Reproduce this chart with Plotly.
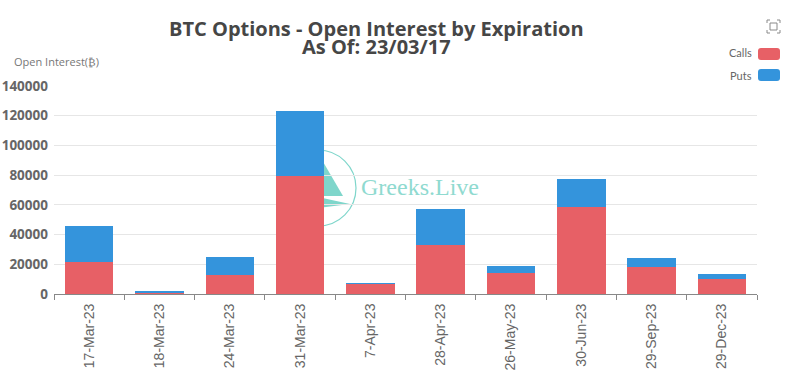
import plotly.graph_objects as go

categories = ["17-Mar-23", "18-Mar-23", "24-Mar-23", "31-Mar-23", "7-Apr-23",
              "28-Apr-23", "26-May-23", "30-Jun-23", "29-Sep-23", "29-Dec-23"]
calls = [21500, 1300, 12500, 79500, 6900, 33000, 14000, 58500, 18500, 10000]
puts = [24300, 150, 12400, 43500, 300, 24000, 5000, 19000, 5700, 3500]
y_ticks = [0, 20000, 40000, 60000, 80000, 100000, 120000, 140000]

W, H = 790, 383
L, R, T, B = 54, 757, 86, 294
CALLS = "#E76066"
PUTS = "#3494DC"
TEAL = "#7FD6CB"


def px(x):
    return (x - L) / (R - L)


def py(y):
    return (B - y) / (B - T)


def rrect(x0, y0, x1, y1, r):
    a0, a1 = px(x0), px(x1)
    b0, b1 = py(y0), py(y1)
    rx, ry = r / (R - L), r / (B - T)
    return (f"M{a0+rx},{b0} L{a1-rx},{b0} Q{a1},{b0} {a1},{b0-ry} L{a1},{b1+ry} "
            f"Q{a1},{b1} {a1-rx},{b1} L{a0+rx},{b1} Q{a0},{b1} {a0},{b1+ry} "
            f"L{a0},{b0-ry} Q{a0},{b0} {a0+rx},{b0} Z")


def poly(points):
    return "M" + " L".join(f"{px(x)},{py(y)}" for x, y in points) + " Z"


fig = go.Figure()
fig.add_bar(x=categories, y=calls, name="Calls", marker_color=CALLS, marker_line_width=0)
fig.add_bar(x=categories, y=puts, name="Puts", marker_color=PUTS, marker_line_width=0)

shapes = [
    # watermark
    dict(type="circle", xref="paper", yref="paper", x0=px(280), x1=px(356), y0=py(226), y1=py(150),
         line=dict(color=TEAL, width=1.2), fillcolor="rgba(0,0,0,0)", layer="below"),
    dict(type="path", xref="paper", yref="paper", path=poly([(322, 160), (343, 196), (318, 196)]),
         fillcolor=TEAL, line_width=0, layer="below"),
    dict(type="path", xref="paper", yref="paper", path=poly([(318, 197), (350, 204), (318, 208)]),
         fillcolor=TEAL, line_width=0, layer="below"),
    # legend swatches
    dict(type="path", xref="paper", yref="paper", path=rrect(758, 48, 780, 60, 3),
         fillcolor=CALLS, line_width=0, layer="above"),
    dict(type="path", xref="paper", yref="paper", path=rrect(758, 69, 780, 81, 3),
         fillcolor=PUTS, line_width=0, layer="above"),
    # fullscreen icon
    dict(type="rect", xref="paper", yref="paper", x0=px(770), x1=px(777), y0=py(30), y1=py(23),
         line=dict(color="#8a8a8a", width=1), fillcolor="rgba(0,0,0,0)", layer="above"),
]
for cx, cy, dx, dy in [(767, 20, 1, 1), (780, 20, -1, 1), (767, 33, 1, -1), (780, 33, -1, -1)]:
    shapes.append(dict(type="path", xref="paper", yref="paper",
                       path=f"M{px(cx+3*dx)},{py(cy)} L{px(cx)},{py(cy)} L{px(cx)},{py(cy+3*dy)}",
                       line=dict(color="#8a8a8a", width=1), layer="above"))

base = dict(showarrow=False, xref="paper", yref="paper", yanchor="middle")
annotations = [
    dict(text="<b>BTC Options - Open Interest by Expiration</b>", x=px(376), y=py(28), xanchor="center",
         font=dict(family="Open Sans", size=20, color="#464646"), **base),
    dict(text="<b>As Of: 23/03/17</b>", x=px(376), y=py(46), xanchor="center",
         font=dict(family="Open Sans", size=20, color="#464646"), **base),
    dict(text="Open Interest(₿)", x=px(12), y=py(62), xanchor="left",
         font=dict(family="Open Sans", size=11, color="#777777"), **base),
    dict(text="Calls", x=px(754), y=py(53), xanchor="right",
         font=dict(family="Lato", size=11, color="#666666"), **base),
    dict(text="Puts", x=px(754), y=py(75), xanchor="right",
         font=dict(family="Lato", size=11, color="#666666"), **base),
    dict(text="Greeks.Live", x=px(359), y=py(187), xanchor="left",
         font=dict(family="Liberation Serif", size=24, color="#8FDAD0"), **base),
]

fig.update_layout(
    width=W, height=H, autosize=False,
    barmode="stack", bargap=0.31, showlegend=False,
    paper_bgcolor="white", plot_bgcolor="rgba(0,0,0,0)",
    margin=dict(l=L, r=W - R, t=T, b=H - B, pad=0, autoexpand=False),
    shapes=shapes, annotations=annotations,
    xaxis=dict(type="category", tickangle=-90, tickson="boundaries", ticks="outside", automargin=False,
               ticklen=5, tickcolor="#888888", linecolor="#888888", linewidth=1, showline=True,
               ticklabelstandoff=3,
               showgrid=False, tickfont=dict(family="Liberation Sans", size=14, color="#666666")),
    yaxis=dict(range=[0, 140000], tickvals=y_ticks, ticktext=[str(v) for v in y_ticks], automargin=False,
               showgrid=True, gridcolor="#E6E6E6", gridwidth=1, zeroline=False, showline=False,
               ticks="", ticklabelstandoff=5,
               tickfont=dict(family="Open Sans", size=13.5, color="#666666", weight="bold")),
)

fig.write_html("out.html", config=dict(displayModeBar=False),
               post_script="document.body.style.margin='0';document.body.style.overflow='hidden';")
